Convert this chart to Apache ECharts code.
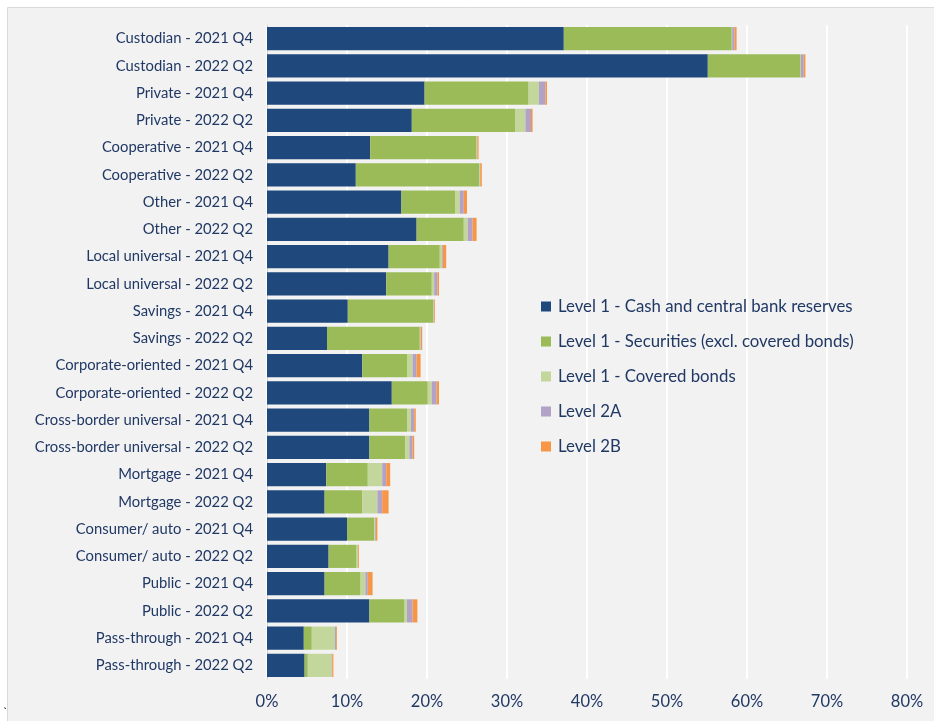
<!DOCTYPE html>
<html>
<head>
<meta charset="utf-8">
<script src="https://cdn.jsdelivr.net/npm/echarts@6/dist/echarts.min.js"></script>
<style>
  html, body { margin: 0; padding: 0; background: #ffffff; }
  #chart { width: 934px; height: 721px; }
</style>
</head>
<body>
<div id="chart"></div>
<script>
// Bank business models, two reporting dates each
const categories = [
  'Custodian - 2021 Q4', 'Custodian - 2022 Q2',
  'Private - 2021 Q4', 'Private - 2022 Q2',
  'Cooperative - 2021 Q4', 'Cooperative - 2022 Q2',
  'Other - 2021 Q4', 'Other - 2022 Q2',
  'Local universal - 2021 Q4', 'Local universal - 2022 Q2',
  'Savings - 2021 Q4', 'Savings - 2022 Q2',
  'Corporate-oriented - 2021 Q4', 'Corporate-oriented - 2022 Q2',
  'Cross-border universal - 2021 Q4', 'Cross-border universal - 2022 Q2',
  'Mortgage - 2021 Q4', 'Mortgage - 2022 Q2',
  'Consumer/ auto - 2021 Q4', 'Consumer/ auto - 2022 Q2',
  'Public - 2021 Q4', 'Public - 2022 Q2',
  'Pass-through - 2021 Q4', 'Pass-through - 2022 Q2'
];

// Liquid asset composition, % of total assets
const cashReserves = [37.1, 55.1, 19.7, 18.1, 12.9, 11.1, 16.8, 18.7, 15.2, 14.9, 10.1, 7.5,
                      11.9, 15.6, 12.8, 12.8, 7.4, 7.2, 10.0, 7.7, 7.2, 12.8, 4.6, 4.7];
const securities   = [21.0, 11.6, 13.0, 12.9, 13.3, 15.4, 6.7, 5.9, 6.4, 5.7, 10.7, 11.6,
                      5.6, 4.5, 4.7, 4.5, 5.2, 4.7, 3.4, 3.5, 4.5, 4.4, 1.0, 0.4];
const coveredBonds = [0.05, 0.05, 1.3, 1.3, 0.05, 0.1, 0.6, 0.5, 0.3, 0.3, 0.05, 0.1,
                      0.7, 0.5, 0.5, 0.5, 1.8, 1.9, 0.1, 0.2, 0.6, 0.3, 2.9, 3.0];
const level2A      = [0.3, 0.35, 0.8, 0.7, 0.05, 0.05, 0.5, 0.6, 0.1, 0.4, 0.05, 0.05,
                      0.5, 0.6, 0.4, 0.4, 0.5, 0.6, 0.1, 0.0, 0.3, 0.7, 0.15, 0.05];
const level2B      = [0.25, 0.2, 0.2, 0.2, 0.15, 0.2, 0.4, 0.5, 0.4, 0.2, 0.1, 0.15,
                      0.5, 0.3, 0.2, 0.2, 0.5, 0.8, 0.2, 0.1, 0.6, 0.6, 0.1, 0.15];

const seriesNames = [
  'Level 1 - Cash and central bank reserves',
  'Level 1 - Securities (excl. covered bonds)',
  'Level 1 - Covered bonds',
  'Level 2A',
  'Level 2B'
];
const seriesData = [cashReserves, securities, coveredBonds, level2A, level2B];
const seriesColors = ['#1f497d', '#9bbb59', '#c3d69b', '#b3a2c7', '#f79646'];

const xTicks = { min: 0, max: 80, interval: 10 };

const textColor = '#203864';
const fontFamily = 'Lato, "Open Sans", sans-serif';

const chart = echarts.init(document.getElementById('chart'), null, { renderer: 'canvas' });

chart.setOption({
  backgroundColor: '#ffffff',
  animation: false,
  graphic: [
    {
      type: 'rect',
      z: -10,
      shape: { x: 7.5, y: 7.5, width: 940, height: 730 },
      style: { fill: '#f2f2f2', stroke: '#d9d9d9', lineWidth: 1 }
    },
    {
      type: 'text',
      left: 3,
      top: 706,
      style: { text: '`', fill: '#000000', font: '12px ' + fontFamily }
    }
  ],
  legend: {
    orient: 'vertical',
    left: 536,
    top: 293,
    itemWidth: 10,
    itemHeight: 10,
    itemGap: 18,
    icon: 'rect',
    textStyle: { color: textColor, fontSize: 16.8, fontFamily: fontFamily, padding: [0, 0, 0, 2] },
    data: seriesNames
  },
  grid: { left: 267, right: 27, top: 25, bottom: 42, containLabel: false },
  xAxis: {
    type: 'value',
    min: xTicks.min,
    max: xTicks.max,
    interval: xTicks.interval,
    axisLine: { show: false },
    axisTick: { show: false },
    splitLine: { show: true, lineStyle: { color: '#ffffff', width: 2 } },
    axisLabel: {
      formatter: '{value}%',
      color: textColor,
      fontSize: 16.5,
      fontFamily: fontFamily,
      margin: 14
    }
  },
  yAxis: {
    type: 'category',
    inverse: true,
    data: categories,
    axisLine: { show: true, lineStyle: { color: '#d0d0d0', width: 1 } },
    axisTick: { show: false },
    axisLabel: {
      color: textColor,
      fontSize: 14.8,
      fontFamily: fontFamily,
      margin: 14
    }
  },
  series: seriesData.map((values, i) => ({
    name: seriesNames[i],
    type: 'bar',
    stack: 'total',
    barCategoryGap: '15%',
    itemStyle: { color: seriesColors[i] },
    emphasis: { disabled: true },
    data: values
  }))
});
</script>
</body>
</html>
